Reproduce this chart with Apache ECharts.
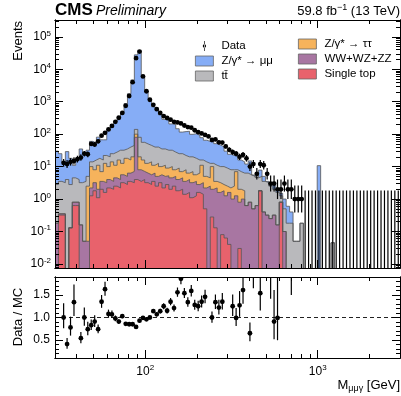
<!DOCTYPE html>
<html>
<head>
<meta charset="utf-8">
<script src="https://cdn.jsdelivr.net/npm/echarts@6/dist/echarts.min.js"></script>
<style>
  html, body { margin: 0; padding: 0; background: #fff; }
  #chart { width: 401px; height: 396px; }
</style>
</head>
<body>
<div id="chart"></div>
<script>
var FONT = '"Liberation Sans", Arial, Helvetica, sans-serif';

// binning: 100 log-uniform bins, 30 - 3000 GeV
var massMin = 30, massMax = 3000, nBins = 100;

// observed events per bin (null = no marker, 0 = empty bin)
var dataCounts = [
  null, null, 13, 12, 14, 15, 17, 19, 25, 24,
  50, 48, 60, 90, 110, 140, 180, 240, 320, 450,
  750, 1500, 4000, 22000, 35000, 6000, 2100, 1150, 800, 590,
  450, 360, 315, 280, 240, 230, 215, 185, 165, 158,
  132, 115, 105, 95, 85, 66, 69, 56, 55, 42,
  33, 28, 25, 20, 23, 18, 10, 12, 6, 12,
  11, 6, 3, 3, 2, 2, 3, 2, 2, 1,
  1, 1, 0, 0, 0, 0, 0, 0, 0, 0,
  0, 0, 0, 0, 0, 0, 0, 0, 0, 0,
  0, 0, 0, 0, 0, 0, 0, 0, 0, 0
];

// data / MC per bin
var ratioValues = [
  null, null, 1.0, 0.41, 0.78, 1.34, null, 0.54, 1.0, 0.74,
  0.83, 0.91, 0.74, 1.35, 1.63, 1.08, 1.07, 0.98, 0.91, 1.03,
  0.86, 0.85, 0.85, 0.79, 0.93, 0.99, 0.96, 1.0, 1.14, 1.07,
  1.14, 1.25, 1.15, 1.35, 1.21, 1.56, 1.86, 1.54, 1.34, 1.59,
  1.28, 1.25, 1.35, 1.46, null, 1.0, 1.34, 1.22, 1.35, null,
  null, 1.25, 0.99, 1.27, 1.61, null, 0.65, 2.2, null, 1.54,
  null, null, 2.5, 0.91, 0.99, null, null, null, 3.0, null
];

// top edge of each layer of the stack (cumulative, as drawn)
var stackSingleTop = [
  0, 0.32, 0.32, 0, 0.13, 0.63, 0.63, 0, 0, 0,
  1.26, 1.8, 1.1, 2.0, 1.6, 2.2, 2.0, 2.5, 2.2, 3.2,
  2.8, 3.5, 3.2, 4.0, 3.5, 4.0, 3.2, 2.8, 3.5, 2.5,
  3.2, 2.2, 2.8, 2.0, 2.5, 1.8, 2.0, 1.4, 1.6, 1.1,
  1.26, 1.6, 1.4, 0.5, 0, 0.28, 0.13, 0, 0.08, 0.063,
  0.04, 0, 0, 0.03, 0, 0, 0, 0, 0, 1.8,
  0, 0, 0, 0, 0, 0.8, 0, 0, 0, 0
];
var stackDiboson = [
  0.18, 0.35, 0.35, 0, 0.13, 0.8, 0.8, 0.16, 0.05, 0.05,
  2.2, 3.2, 2.0, 3.5, 3.2, 4.0, 3.5, 4.5, 4.0, 5.6,
  5.0, 6.3, 7.1, 80, 8.0, 7.1, 6.3, 5.6, 6.3, 5.0,
  5.6, 5.0, 5.2, 4.5, 5.0, 4.0, 4.5, 3.5, 4.0, 3.2,
  3.5, 2.8, 3.2, 2.2, 2.5, 2.0, 2.2, 1.6, 1.8, 1.26,
  1.6, 1.0, 1.26, 0.8, 1.0, 0.63, 0.8, 0.5, 0.63, 1.8,
  0.4, 0.32, 0.25, 0.32, 0.16, 0.8, 0.1, 0, 0, 0
];
var stackZtautau = [
  0.18, 0.35, 0.35, 0, 0.13, 0.8, 0.8, 0.16, 0.05, 2.5,
  10, 8, 11, 7, 12.6, 10, 14, 11, 16, 12.6,
  18, 16, 20, 100, 20, 16, 12.6, 14, 11, 12.6,
  10, 11, 9, 10, 8, 9, 7, 8, 6.3, 7,
  5.6, 6.3, 11, 5, 4.5, 10, 3.5, 3.2, 2.8, 2.5,
  2.2, 2.5, 7, 2.0, 1.8, 0.63, 0.8, 0.5, 0.63, 1.8,
  0.4, 0.32, 0.25, 0.32, 0.16, 0.8, 0.1, 0, 0, 0
];
var stackTTbar = [
  2.8, 3.5, 3.2, 4.0, 2.8, 4.5, 4.0, 3.2, 3.5, 5.0,
  14, 16, 18, 16, 22, 20, 25, 28, 32, 32,
  35, 40, 45, 140, 80, 56, 50, 45, 40, 40,
  35, 35, 32, 32, 28, 25, 25, 22, 20, 20,
  18, 16, 16, 14, 12.6, 12.6, 11, 10, 10, 9,
  8, 8, 8, 7, 6.3, 6.3, 5.6, 5, 4.5, 5,
  3.5, 3.2, 2.5, 2.0, 1.6, 1.26, 0.5, 0.18, 0.18, 0.05,
  0.05, 0.18, 0, 0, 0, 0, 0, 0, 0, 0,
  0.045, 0, 0, 0, 0, 0, 0, 0, 0, 0
];
var stackZmumu = [
  30, 25, 13, 29, 18, 11, 18, 35, 25, 32,
  60, 53, 81, 67, 67, 130, 168, 245, 350, 437,
  870, 1760, 4700, 27800, 37600, 6060, 2190, 1150, 700, 550,
  395, 288, 274, 207, 198, 147, 116, 120, 123, 99,
  103, 92, 78, 65, 60, 66, 51, 46, 41, 30,
  24, 22, 25, 16, 14, 12, 15, 5.5, 4.6, 7.8,
  5, 3.5, 2.6, 3.3, 2, 1.5, 1.0, 0.6, 0.4, 0.05,
  0.05, 0.18, 0, 0, 0, 0, 10.7, 0, 0, 0,
  0.045, 0, 0, 0, 0, 0, 0, 0, 0, 0
];

var yMin = 0.0075, yMax = 3.3e5;
var rMin = 0.1, rMax = 1.9;
var FLOOR = 1e-5; // empty bins fall below the visible range

var binEdges = [];
for (var i = 0; i <= nBins; i++) binEdges.push(massMin * Math.pow(massMax / massMin, i / nBins));
function binCenter(i) { return Math.sqrt(binEdges[i] * binEdges[i + 1]); }

function stepData(vals) {
  var pts = [];
  for (var i = 0; i < nBins; i++) pts.push([binEdges[i], vals[i] > 0 ? vals[i] : FLOOR]);
  pts.push([binEdges[nBins], FLOOR]);
  return pts;
}

function poissonErr(n) {
  if (n === 0) return [FLOOR, 1.84];
  var d = Math.sqrt(n + 0.25);
  return [n - d + 0.5, n + d + 0.5];
}

var dataPoints = [], ratioPoints = [];
for (var i = 0; i < nBins; i++) {
  var n = dataCounts[i];
  if (n == null) continue;
  var e = poissonErr(n);
  dataPoints.push([binCenter(i), n, e[0], e[1]]);
  var r = ratioValues[i];
  if (r != null && n > 0) ratioPoints.push([binCenter(i), r, r * e[0] / n, r * e[1] / n]);
}

function logMinor(lo, hi) {
  var t = [];
  for (var p = Math.floor(Math.log10(lo)); p <= Math.ceil(Math.log10(hi)); p++) {
    for (var k = 2; k <= 9; k++) {
      var v = k * Math.pow(10, p);
      if (v > lo && v < hi) t.push(v);
    }
  }
  return t;
}
function logMajor(lo, hi) {
  var t = [];
  for (var p = Math.ceil(Math.log10(lo)); Math.pow(10, p) <= hi; p++) t.push(Math.pow(10, p));
  return t;
}

var xMajor = logMajor(massMin, massMax), xMinor = logMinor(massMin, massMax);
var yMajor = logMajor(yMin, yMax), yMinor = logMinor(yMin, yMax);
var rMajor = [0.5, 1.0, 1.5];
var rMinor = [0.2, 0.3, 0.4, 0.6, 0.7, 0.8, 0.9, 1.1, 1.2, 1.3, 1.4, 1.6, 1.7, 1.8];

var powRich = {
  b: { fontSize: 12, color: '#000', fontFamily: FONT },
  e: { fontSize: 8, color: '#000', fontFamily: FONT, padding: [0, 0, 7, 0] }
};
function powLabel(v) { return '{b|10}{e|' + Math.round(Math.log10(v)) + '}'; }

function makeAxis(kind, grid, pos, ticks, len, label) {
  var ax = {
    gridIndex: grid, position: pos, z: 10,
    axisLine: { show: true, onZero: false, lineStyle: { color: '#000', width: 1 } },
    axisTick: { show: true, inside: true, length: len, customValues: ticks, lineStyle: { color: '#000', width: 1 } },
    axisLabel: { show: false },
    splitLine: { show: false }
  };
  if (kind === 'x') { ax.type = 'log'; ax.min = massMin; ax.max = massMax; }
  else if (kind === 'y') { ax.type = 'log'; ax.min = yMin; ax.max = yMax; }
  else { ax.type = 'value'; ax.min = rMin; ax.max = rMax; }
  if (label) ax.axisLabel = label;
  return ax;
}

var xAxes = [
  makeAxis('x', 0, 'bottom', xMajor, 8),
  makeAxis('x', 1, 'bottom', xMajor, 8, {
    show: true, customValues: xMajor, formatter: powLabel, rich: powRich, margin: 6
  }),
  makeAxis('x', 0, 'bottom', xMinor, 4),
  makeAxis('x', 0, 'top', xMajor, 8),
  makeAxis('x', 0, 'top', xMinor, 4),
  makeAxis('x', 1, 'bottom', xMinor, 4),
  makeAxis('x', 1, 'top', xMajor, 8),
  makeAxis('x', 1, 'top', xMinor, 4)
];
var yAxes = [
  makeAxis('y', 0, 'left', yMajor, 8, {
    show: true, customValues: yMajor, formatter: powLabel, rich: powRich, margin: 4
  }),
  makeAxis('r', 1, 'left', rMajor, 8, {
    show: true, customValues: rMajor, margin: 5, fontSize: 12, color: '#000', fontFamily: FONT,
    formatter: function (v) { return v.toFixed(1); }
  }),
  makeAxis('y', 0, 'left', yMinor, 4),
  makeAxis('y', 0, 'right', yMajor, 8),
  makeAxis('y', 0, 'right', yMinor, 4),
  makeAxis('r', 1, 'left', rMinor, 4),
  makeAxis('r', 1, 'right', rMajor, 8),
  makeAxis('r', 1, 'right', rMinor, 4)
];

var COLORS = {
  zmumu: '#86adf6',
  ttbar: '#b9b9bc',
  ztautau: '#f6b35c',
  diboson: '#a876a2',
  singletop: '#e8626c'
};

function stackSeries(name, vals, fill) {
  return {
    name: name, type: 'line', xAxisIndex: 0, yAxisIndex: 0, step: 'end',
    symbol: 'none', silent: true, z: 2,
    data: stepData(vals),
    itemStyle: { color: fill },
    lineStyle: { color: '#555', width: 0.8 },
    areaStyle: { color: fill, opacity: 1, origin: 'start' }
  };
}

function renderPoint(params, api) {
  var x = api.value(0), y = api.value(1);
  var top = api.coord([x, api.value(3)]);
  var bot = api.coord([x, api.value(2)]);
  var kids = [{
    type: 'line',
    shape: { x1: top[0], y1: top[1], x2: bot[0], y2: bot[1] },
    style: { stroke: '#000', lineWidth: 1.2 }
  }];
  if (y > 0) {
    var c = api.coord([x, y]);
    kids.push({ type: 'circle', shape: { cx: c[0], cy: c[1], r: 2.4 }, style: { fill: '#000' } });
  }
  return { type: 'group', children: kids };
}

var DATA_ICON = 'path://M1.6,0h0.8v12h-0.8zM0,6a2,2 0 1,0 4,0a2,2 0 1,0 -4,0z';
function boxItem(name, fill) {
  return { name: name, icon: 'rect', itemStyle: { color: fill, borderColor: '#666', borderWidth: 0.8 } };
}
var legendText = { fontSize: 11.5, color: '#000', fontFamily: FONT, padding: [0, 0, 0, 3] };

var chart = echarts.init(document.getElementById('chart'), null, { renderer: 'canvas' });
chart.setOption({
  animation: false,
  textStyle: { fontFamily: FONT },
  grid: [
    { left: 55, top: 20, right: 1, height: 248, outerBoundsMode: 'none' },
    { left: 55, top: 277, right: 1, height: 81, outerBoundsMode: 'none' }
  ],
  xAxis: xAxes,
  yAxis: yAxes,
  legend: [
    {
      left: 195, top: 40, padding: 0, orient: 'vertical', itemWidth: 18, itemHeight: 10, itemGap: 3,
      selectedMode: false, textStyle: legendText,
      data: [
        { name: 'Data', icon: DATA_ICON, itemStyle: { color: '#000' } },
        boxItem('Z/γ* → μμ', COLORS.zmumu),
        boxItem('tt\u0304', COLORS.ttbar)
      ]
    },
    {
      left: 298, top: 38, padding: 0, orient: 'vertical', itemWidth: 18, itemHeight: 10, itemGap: 3,
      selectedMode: false, textStyle: legendText,
      data: [
        boxItem('Z/γ* → ττ', COLORS.ztautau),
        boxItem('WW+WZ+ZZ', COLORS.diboson),
        boxItem('Single top', COLORS.singletop)
      ]
    }
  ],
  graphic: [
    { type: 'text', left: 55, top: 2, style: { text: 'CMS', font: 'bold 17px ' + FONT, fill: '#000' } },
    { type: 'text', left: 96, top: 4, style: { text: 'Preliminary', font: 'italic 14px ' + FONT, fill: '#000' } },
    {
      type: 'text', right: 1, top: 3,
      style: {
        text: '{a|59.8 fb}{s|−1}{a| (13 TeV)}', fill: '#000',
        rich: { a: { fontSize: 13, fontFamily: FONT }, s: { fontSize: 9, fontFamily: FONT, padding: [0, 0, 7, 0] } }
      }
    },
    {
      type: 'text', x: 18, y: 21, rotation: Math.PI / 2,
      style: { text: 'Events', font: '13px ' + FONT, fill: '#000', align: 'right', verticalAlign: 'middle' }
    },
    {
      type: 'text', x: 18, y: 317, rotation: Math.PI / 2,
      style: { text: 'Data / MC', font: '13px ' + FONT, fill: '#000', align: 'center', verticalAlign: 'middle' }
    },
    {
      type: 'text', right: 1, top: 379,
      style: {
        text: '{a|M}{s|μμγ}{a| [GeV]}', fill: '#000',
        rich: { a: { fontSize: 13, fontFamily: FONT }, s: { fontSize: 9, fontFamily: FONT, padding: [6, 0, 0, 0] } }
      }
    }
  ],
  series: [
    stackSeries('Z/γ* → μμ', stackZmumu, COLORS.zmumu),
    stackSeries('tt\u0304', stackTTbar, COLORS.ttbar),
    stackSeries('Z/γ* → ττ', stackZtautau, COLORS.ztautau),
    stackSeries('WW+WZ+ZZ', stackDiboson, COLORS.diboson),
    stackSeries('Single top', stackSingleTop, COLORS.singletop),
    {
      name: 'Data', type: 'custom', xAxisIndex: 0, yAxisIndex: 0, clip: true, z: 5,
      itemStyle: { color: '#000' }, renderItem: renderPoint, data: dataPoints
    },
    {
      type: 'line', xAxisIndex: 1, yAxisIndex: 1, symbol: 'none', silent: true, z: 3,
      data: [[massMin, 1], [massMax, 1]],
      lineStyle: { color: '#222', width: 1.2, type: [4, 3] }
    },
    {
      name: 'ratio', type: 'custom', xAxisIndex: 1, yAxisIndex: 1, clip: true, z: 5,
      itemStyle: { color: '#000' }, renderItem: renderPoint, data: ratioPoints
    }
  ]
});
</script>
</body>
</html>
